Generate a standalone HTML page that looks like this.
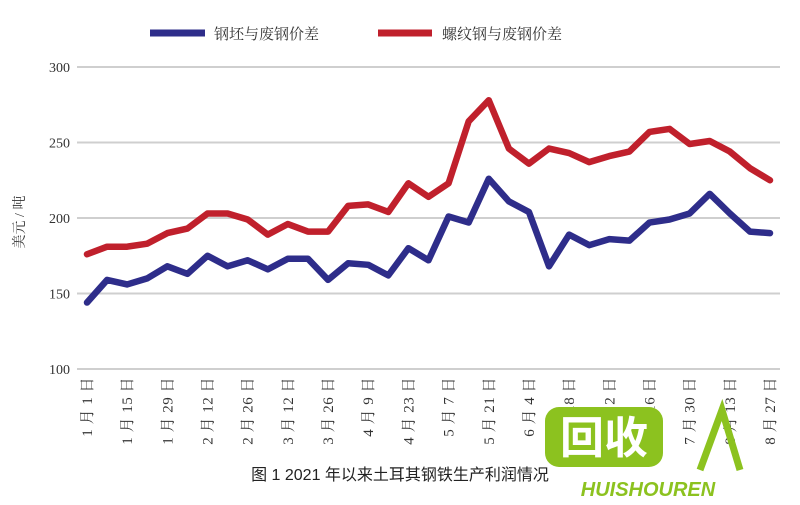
<!DOCTYPE html>
<html><head><meta charset="utf-8"><style>
body{margin:0;background:#fff;}
svg text{font-family:"Liberation Serif","Noto Serif CJK SC",serif;}
</style></head><body>
<svg id="c" width="800" height="500" viewBox="0 0 800 500" xmlns="http://www.w3.org/2000/svg">
<g id="grid"></g><g id="ylab"></g><g id="xlab"></g><g id="lines"></g>
<g>
<line x1="150" y1="33" x2="205" y2="33" stroke="#2e2d8a" stroke-width="7"/>
<text x="214" y="39" font-size="15" fill="#333">钢坯与废钢价差</text>
<line x1="378" y1="33" x2="432" y2="33" stroke="#c0202c" stroke-width="7"/>
<text x="442" y="39" font-size="15" fill="#333">螺纹钢与废钢价差</text>
</g>
<text transform="translate(24,222) rotate(-90)" text-anchor="middle" font-size="14" fill="#333">美元 / 吨</text>
<text x="400" y="480" text-anchor="middle" font-size="16" fill="#222" style="font-family:'Liberation Sans','Noto Sans CJK SC',sans-serif">图 1  2021 年以来土耳其钢铁生产利润情况</text>
<g>
<rect x="545" y="407" width="118" height="60" rx="14" fill="#8cc21f"/>
<text x="604" y="453" text-anchor="middle" font-size="44" font-weight="bold" fill="#fff" style="font-family:'Noto Sans CJK SC',sans-serif">回收</text>
<path d="M700 470 L722 410 L740 470" fill="none" stroke="#8cc21f" stroke-width="7"/>
<text x="648" y="496" text-anchor="middle" font-size="20" font-weight="bold" font-style="italic" fill="#8cc21f" style="font-family:'Liberation Sans',sans-serif">HUISHOUREN</text>
</g>
</svg>
<script>
const yTicks=[100,150,200,250,300];
const xLabels=["1 月 1 日","1 月 15 日","1 月 29 日","2 月 12 日","2 月 26 日","3 月 12 日","3 月 26 日","4 月 9 日","4 月 23 日","5 月 7 日","5 月 21 日","6 月 4 日","6 月 18 日","7 月 2 日","7 月 16 日","7 月 30 日","8 月 13 日","8 月 27 日"];
const rebar=[176,181,181,183,190,193,203,203,199,189,196,191,191,208,209,204,223,214,223,264,278,246,236,246,243,237,241,244,257,259,249,251,244,233,225];
const billet=[144,159,156,160,168,163,175,168,172,166,173,173,159,170,169,162,180,172,201,197,226,211,204,168,189,182,186,185,197,199,203,216,203,191,190];
const NS="http://www.w3.org/2000/svg";
const y=v=>369-(v-100)*302/200;
const x=i=>87+i*(770-87)/34;
function mk(t,a,p){const e=document.createElementNS(NS,t);for(const k in a)e.setAttribute(k,a[k]);p.appendChild(e);return e;}
const g=document.getElementById('grid'),yl=document.getElementById('ylab'),xl=document.getElementById('xlab'),ln=document.getElementById('lines');
yTicks.forEach(v=>{
 const l=mk('line',{x1:77,x2:780,y1:y(v),y2:y(v),stroke:'#cfcfcf','stroke-width':2},g);
 
 
 const t=mk('text',{x:70,y:y(v)+5,'text-anchor':'end','font-size':14,fill:'#333'},yl);t.textContent=v;
 
 
});
xLabels.forEach((s,k)=>{
 const px=x(k*2);
 const t=mk('text',{transform:`translate(${px+5},377) rotate(-90)`,'text-anchor':'end','font-size':15,'letter-spacing':'0.5',fill:'#333'},xl);t.textContent=s;
 
 
});
[[billet,'#2e2d8a','billet-line'],[rebar,'#c0202c','rebar-line']].forEach(([d,c,n])=>{
 const p=mk('polyline',{points:d.map((v,i)=>x(i)+','+y(v)).join(' '),fill:'none',stroke:c,'stroke-width':6.5,'stroke-linejoin':'round','stroke-linecap':'round'},ln);
 
 
});
</script>
</body></html>
